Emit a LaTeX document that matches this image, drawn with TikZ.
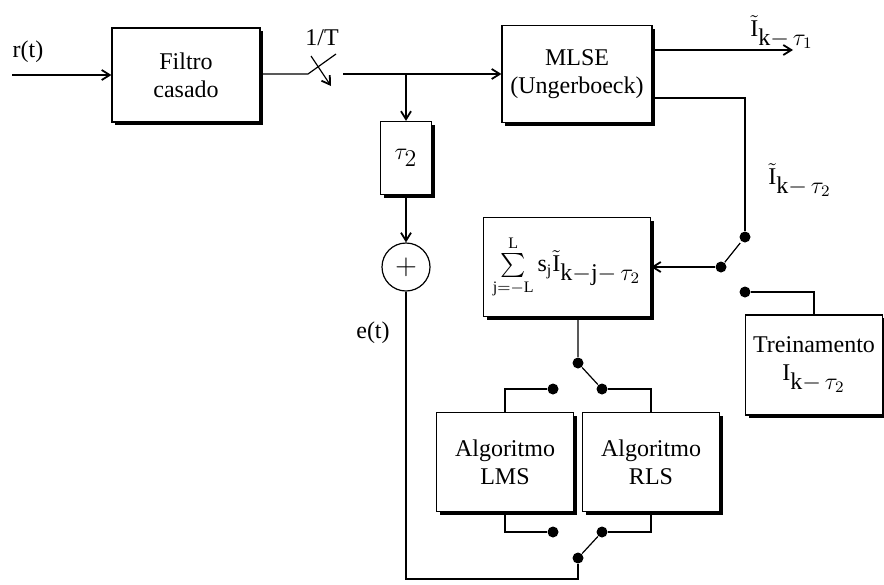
\documentclass[tikz,border=0pt]{standalone}
\usepackage{amsmath,amssymb}
\usepackage{fontspec}
\setmainfont{Liberation Serif}
\usepackage{tikz}
\usetikzlibrary{arrows.meta,positioning,shadows,calc}

\begin{document}
\begin{tikzpicture}[
  x=0.5pt, y=-0.5pt,
  font=\fontsize{12}{14}\selectfont,
  line width=0.6pt,
  >={Straight Barb[length=4pt,width=5pt,line width=0.9pt]},
  blk/.style={draw, rectangle, fill=white, align=center, line width=0.6pt,
    drop shadow={fill=black, opacity=1, shadow xshift=1.6pt, shadow yshift=-1.6pt}},
  somador/.style={draw, circle, minimum size=24pt, inner sep=0pt, fill=white},
  dot/.style={circle, fill=black, minimum size=5.5pt, inner sep=0pt},
  arrline/.style={->},
]
\useasboundingbox (0,0) rectangle (884,584);

\node[blk, minimum width=74pt, minimum height=47pt] (filtro) at (186,75) {Filtro\\casado};
\node[blk, minimum width=75pt, minimum height=48.5pt] (mlse) at (577,74) {MLSE\\(Ungerboeck)};
\node[blk, minimum width=25.5pt, minimum height=36.5pt] (atraso) at (406,158) {$\tau_{\textstyle 2}$};
\node[somador] (soma) at (406,267) {\Large$+$};
\node[blk, minimum width=83.5pt, minimum height=49.5pt] (filtrosj) at (567,267)
  {$\sum\limits_{\mathrm{j{=}{-}L}}^{\mathrm{L}} \mathrm{s}_{\mathrm{j}}\tilde{\mathrm{I}}_{\textstyle\mathrm{k{-}j{-}}\,\tau_2}$};
\node[blk, minimum width=68.5pt, minimum height=50pt] (treino) at (814,365) {Treinamento\\$\mathrm{I}_{\textstyle\mathrm{k{-}}\,\tau_2}$};
\node[blk, minimum width=68.5pt, minimum height=49.5pt] (lms) at (505,462) {Algoritmo\\LMS};
\node[blk, minimum width=68.5pt, minimum height=49.5pt] (rls) at (651,462) {Algoritmo\\RLS};

\node (rt) at (28,52) {r(t)};
\node (et) at (373,333) {e(t)};
\node (taxa) at (322,38) {1/T};
\node (saida1) at (782,32) {$\tilde{\mathrm{I}}_{\textstyle\mathrm{k{-}}\,\tau_1}$};
\node (saida2) at (800,180) {$\tilde{\mathrm{I}}_{\textstyle\mathrm{k{-}}\,\tau_2}$};

\coordinate (rin) at (12,75);
\coordinate (swa) at (308,74);
\coordinate (swb) at (343,74);
\coordinate (ramo) at (406,74);
\coordinate (out1) at (793,50);
\coordinate (baixo) at (406,579);

\node[dot] (dA) at (578,363) {};
\node[dot] (dB) at (553,389) {};
\node[dot] (dC) at (602,389) {};
\node[dot] (dD) at (578,558) {};
\node[dot] (dE) at (553,532) {};
\node[dot] (dF) at (602,532) {};
\node[dot] (dG) at (745,237) {};
\node[dot] (dH) at (721,267) {};
\node[dot] (dI) at (745,292) {};

\draw[arrline] (rin) -- (filtro.west);
\draw (filtro.east |- swa) -- (swa) -- ++(28,-20);
\draw[->] (311,56) -- (331,86);
\draw[arrline] (swb) -- (mlse.west |- swb);
\draw[arrline] (ramo) -- (atraso.north);
\draw[arrline] (atraso.south) -- (soma.north);
\draw (soma.south) -- (baixo) -| (dD);
\draw[arrline] (mlse.east |- out1) -- (out1);
\draw (mlse.east |- 0,98) -| (dG);
\draw (dH) -- ($(dG)!0.2!(dH)$);
\draw[arrline] (dH) -- (filtrosj.east);
\draw (dI) -| (treino.north);
\draw (dA |- filtrosj.south) -- (dA) -- (dC);
\draw (dB) -| (lms.north);
\draw (dC) -| (rls.north);
\draw (lms.south) |- (dE);
\draw (rls.south) |- (dF);
\draw (dD) -- (dF);
\end{tikzpicture}
\end{document}
